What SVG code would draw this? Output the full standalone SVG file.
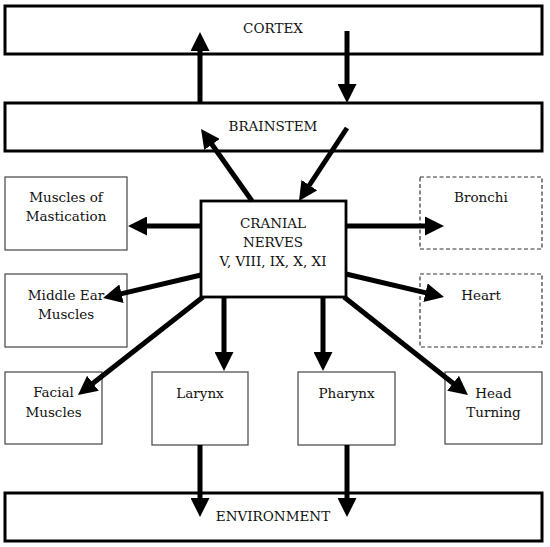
<svg xmlns="http://www.w3.org/2000/svg" width="550" height="547" viewBox="0 0 550 547">
<style>
  .big { fill: #fff; stroke: #000; stroke-width: 3; }
  .mid { fill: #fff; stroke: #000; stroke-width: 2.8; }
  .box { fill: #fff; stroke: #444; stroke-width: 1.2; }
  .dash { fill: #fff; stroke: #333; stroke-width: 1.2; stroke-dasharray: 4 2.5; }
  text { font-family: "DejaVu Serif", "Liberation Serif", serif; font-size: 13.5px; fill: #111; text-anchor: middle; }
  .conn line { stroke: #000; stroke-width: 5; marker-end: url(#ah); }
</style>
<defs>
  <marker id="ah" viewBox="0 0 19 19" markerWidth="19" markerHeight="19" markerUnits="userSpaceOnUse" refX="4" refY="9.5" orient="auto">
    <path d="M0,0 L19,9.5 L0,19 z" fill="#000"/>
  </marker>
</defs>
<rect width="550" height="547" fill="#fff"/>
<g id="cortex"><rect class="big" x="5" y="6" width="537" height="48"/><text x="273" y="33">CORTEX</text></g>
<g id="brainstem"><rect class="big" x="5" y="103" width="537" height="48"/><text x="273" y="131">BRAINSTEM</text></g>
<g id="environment"><rect class="big" x="5" y="493" width="537" height="48"/><text x="273" y="521">ENVIRONMENT</text></g>
<g id="cranial"><rect class="mid" x="201" y="201" width="145" height="96"/><text x="273" y="228">CRANIAL</text><text x="273" y="247">NERVES</text><text x="273" y="266">V, VIII, IX, X, XI</text></g>
<g id="mastication"><rect class="box" x="5" y="177" width="122" height="73"/><text x="66" y="202">Muscles of</text><text x="66" y="221">Mastication</text></g>
<g id="middle-ear"><rect class="box" x="5" y="274" width="122" height="73"/><text x="66" y="300">Middle Ear</text><text x="66" y="319">Muscles</text></g>
<g id="bronchi"><rect class="dash" x="420" y="177" width="122" height="72"/><text x="481" y="202">Bronchi</text></g>
<g id="heart"><rect class="dash" x="420" y="274" width="122" height="73"/><text x="481" y="300">Heart</text></g>
<g id="facial"><rect class="box" x="5" y="372" width="97" height="72"/><text x="53.5" y="397">Facial</text><text x="53.5" y="417">Muscles</text></g>
<g id="larynx"><rect class="box" x="152" y="372" width="96" height="73"/><text x="200" y="398">Larynx</text></g>
<g id="pharynx"><rect class="box" x="298" y="372" width="97" height="73"/><text x="346.5" y="398">Pharynx</text></g>
<g id="head-turning"><rect class="box" x="445" y="372" width="97" height="72"/><text x="493.5" y="398">Head</text><text x="493.5" y="417">Turning</text></g>
<g id="connectors" class="conn">
  <line x1="200" y1="103" x2="200" y2="47"/>
  <line x1="347" y1="31" x2="347" y2="88"/>
  <line x1="252" y1="201" x2="209.7" y2="141.2"/>
  <line x1="347" y1="128" x2="307.2" y2="188.5"/>
  <line x1="201" y1="226" x2="143" y2="226"/>
  <line x1="346" y1="226" x2="429" y2="226"/>
  <line x1="201" y1="275" x2="117.6" y2="294.6"/>
  <line x1="346" y1="274" x2="429.4" y2="293.6"/>
  <line x1="203" y1="297" x2="89.8" y2="385.7"/>
  <line x1="344" y1="297" x2="456.2" y2="385.7"/>
  <line x1="224" y1="297" x2="224" y2="356"/>
  <line x1="323" y1="297" x2="323" y2="356"/>
  <line x1="200" y1="445" x2="200" y2="502"/>
  <line x1="347" y1="445" x2="347" y2="502"/>
</g>
</svg>
